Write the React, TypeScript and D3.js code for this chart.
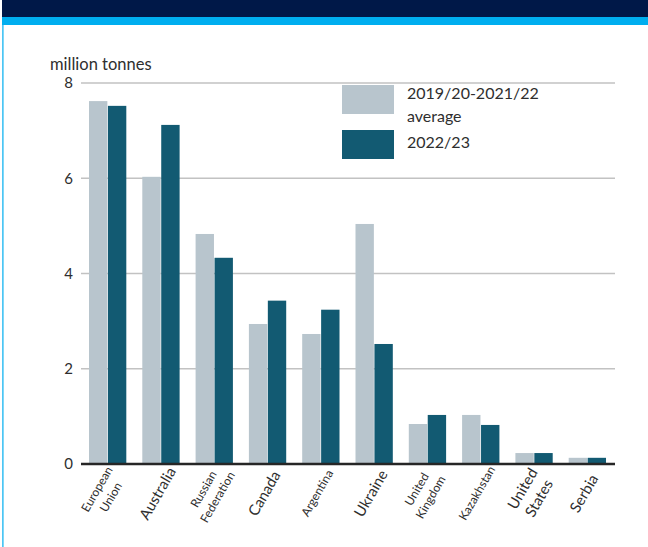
import React from "react";
import * as d3 from "d3";

const categories = [
  "European Union",
  "Australia",
  "Russian Federation",
  "Canada",
  "Argentina",
  "Ukraine",
  "United Kingdom",
  "Kazakhstan",
  "United States",
  "Serbia",
];
const categoryLines = [
  ["European", "Union"],
  ["Australia"],
  ["Russian", "Federation"],
  ["Canada"],
  ["Argentina"],
  ["Ukraine"],
  ["United", "Kingdom"],
  ["Kazakhstan"],
  ["United", "States"],
  ["Serbia"],
];
const avgValues = [7.62, 6.03, 4.83, 2.94, 2.73, 5.04, 0.84, 1.03, 0.23, 0.13];
const currentValues = [7.52, 7.12, 4.33, 3.43, 3.24, 2.52, 1.03, 0.82, 0.23, 0.13];
const seriesNames = ["2019/20-2021/22 average", "2022/23"];
const yTicks = [0, 2, 4, 6, 8];
const unitLabel = "million tonnes";

const W = 648;
const H = 547;
const FONT = "Lato, 'Noto Sans', sans-serif";
const TEXT = "#2e2e2e";
const LIGHT = "#b8c5cd";
const DARK = "#125a72";
const bigLabels = new Set(["Australia", "Canada", "Ukraine", "United States", "Serbia"]);

export default function App() {
  const x0 = d3
    .scaleBand<string>()
    .domain(categories)
    .range([81, 614])
    .paddingInner(0.3)
    .paddingOuter(0.15);
  const x1 = d3
    .scaleBand<string>()
    .domain(["avg", "cur"])
    .range([0, x0.bandwidth()])
    .paddingInner(0.03);
  const y = d3.scaleLinear().domain([0, 8]).range([464, 83]);

  return (
    <svg
      width={W}
      height={H}
      style={{ position: "fixed", left: 0, top: 0, background: "#fff" }}
      fontFamily={FONT}
    >
      <rect x={0} y={0} width={W} height={H} fill="#fff" />
      {/* header */}
      <rect x={2} y={0} width={W - 2} height={17} fill="#001848" />
      <rect x={2} y={17} width={W - 2} height={8} fill="#00aeef" />
      <rect x={2.3} y={25} width={1.2} height={H - 25} fill="#00aeef" />

      {/* unit label */}
      <text x={50} y={69.5} fontSize={16.5} fill={TEXT}>
        {unitLabel}
      </text>

      {/* gridlines and y ticks */}
      {yTicks.map((t) => (
        <g key={t}>
          {t > 0 && (
            <line x1={81} x2={615} y1={y(t)} y2={y(t)} stroke="#c2c2c2" strokeWidth={1.5} />
          )}
          <text
            x={73}
            y={y(t) + 5.3}
            textAnchor="end"
            fontSize={15}
            fill={TEXT}
          >
            {t}
          </text>
        </g>
      ))}

      {/* bars */}
      {categories.map((c, i) => {
        const bx = x0(c) as number;
        return (
          <g key={c}>
            <rect
              x={bx + (x1("avg") as number)}
              y={y(avgValues[i])}
              width={x1.bandwidth()}
              height={y(0) - y(avgValues[i])}
              fill={LIGHT}
            />
            <rect
              x={bx + (x1("cur") as number)}
              y={y(currentValues[i])}
              width={x1.bandwidth()}
              height={y(0) - y(currentValues[i])}
              fill={DARK}
            />
          </g>
        );
      })}

      {/* x axis line */}
      <line x1={81} x2={615} y1={y(0)} y2={y(0)} stroke="#262626" strokeWidth={2.5} />

      {/* category labels */}
      {categories.map((c, i) => {
        const cx = (x0(c) as number) + x0.bandwidth() / 2;
        const lines = categoryLines[i];
        const big = bigLabels.has(c);
        const fs = big ? 15 : 12;
        const lh = big ? 19 : 16;
        return (
          <g key={c} transform={`translate(${cx - 4},${493}) rotate(-60)`}>
            <text textAnchor="middle" fontSize={fs} fill={TEXT}>
              {lines.map((ln, j) => (
                <tspan
                  key={j}
                  x={0}
                  y={(j - (lines.length - 1) / 2) * lh}
                  dominantBaseline="central"
                >
                  {ln}
                </tspan>
              ))}
            </text>
          </g>
        );
      })}

      {/* legend */}
      <rect x={342} y={85} width={52} height={29} fill={LIGHT} />
      <rect x={342} y={130} width={52} height={29} fill={DARK} />
      <text x={407} y={99} fontSize={16} fill={TEXT}>
        {seriesNames[0].split(" ")[0]}
      </text>
      <text x={407} y={122} fontSize={16} fill={TEXT}>
        {seriesNames[0].split(" ")[1]}
      </text>
      <text x={407} y={148} fontSize={16} fill={TEXT}>
        {seriesNames[1]}
      </text>
    </svg>
  );
}
